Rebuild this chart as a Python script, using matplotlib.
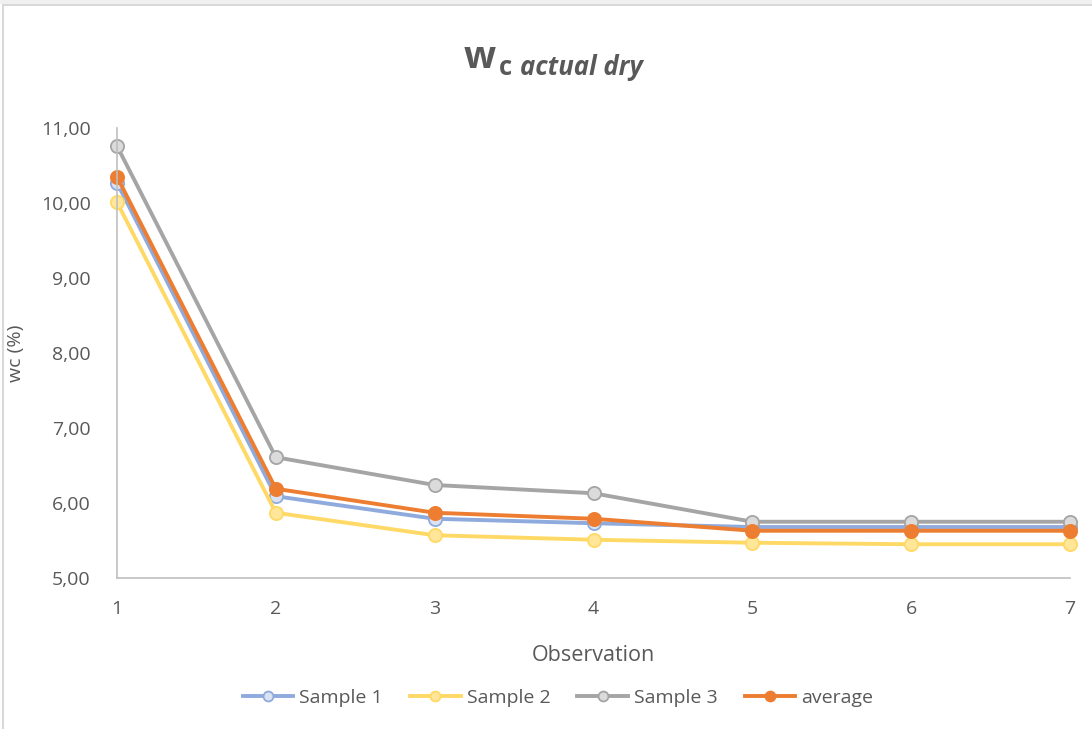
import matplotlib.pyplot as plt
from matplotlib.patches import Rectangle
from matplotlib.ticker import FuncFormatter

plt.rcParams['font.family'] = ['Open Sans', 'DejaVu Sans']

observation = [1, 2, 3, 4, 5, 6, 7]
sample_1 = [10.27, 6.09, 5.79, 5.73, 5.68, 5.68, 5.68]
sample_2 = [10.01, 5.87, 5.57, 5.51, 5.47, 5.45, 5.45]
sample_3 = [10.76, 6.61, 6.24, 6.13, 5.75, 5.75, 5.75]
average = [10.35, 6.19, 5.87, 5.79, 5.63, 5.63, 5.63]

text_col = "#595959"

fig = plt.figure(figsize=(10.92, 7.29), dpi=100)
fig.patch.set_facecolor("white")

# thin light frame round the chart area
fig.patches.append(Rectangle((3 / 1092, -0.01), 1.1, 1 - 5 / 729 + 0.01,
                             transform=fig.transFigure, fill=False,
                             edgecolor="#d9d9d9", linewidth=1.5))
fig.patches.append(Rectangle((0, 1 - 4 / 729), 1, 4 / 729,
                             transform=fig.transFigure, facecolor="#f0f0f0",
                             edgecolor="none"))

ax = fig.add_axes([117 / 1092, 151 / 729, 953 / 1092, 450 / 729])

styles = [
    ("Sample 1", sample_1, "#8faadc", "#dae3f3"),
    ("Sample 2", sample_2, "#ffd966", "#ffe699"),
    ("Sample 3", sample_3, "#a5a5a5", "#dbdbdb"),
    ("average", average, "#ed7d31", "#ed7d31"),
]
for name, vals, col, face in styles:
    ax.plot(observation, vals, color=col, lw=2.8, marker="o", ms=9.5,
            markerfacecolor=face, markeredgecolor=col, markeredgewidth=1.3,
            label=name, clip_on=False)

ax.set_xlim(1, 7)
ax.set_ylim(5, 11)
ax.set_xticks(observation)
ax.set_yticks([5, 6, 7, 8, 9, 10, 11])
ax.yaxis.set_major_formatter(FuncFormatter(lambda v, p: f"{v:.2f}".replace(".", ",")))
ax.tick_params(length=0, labelsize=14, labelcolor=text_col)
ax.tick_params(axis="y", pad=19)
ax.tick_params(axis="x", pad=16)

for s in ["top", "right"]:
    ax.spines[s].set_visible(False)
for s in ["left", "bottom"]:
    ax.spines[s].set_color("#bfbfbf")
    ax.spines[s].set_linewidth(1.2)

ax.set_xlabel("Observation", fontsize=15.5, color=text_col, labelpad=19)
ax.set_ylabel("wc (%)", fontsize=14, color=text_col)
ax.yaxis.set_label_coords(-92 / 953, 0.5)

# title: large w with a subscripted label
fig.text(0.454, 0.9067, "w", fontsize=27, fontweight="bold", color=text_col,
         ha="right", va="baseline")
fig.text(0.457, 0.897, "c", fontsize=18.5, fontweight="bold", color=text_col,
         ha="left", va="baseline")
fig.text(0.476, 0.897, "actual dry", fontsize=18.5, fontweight="bold",
         style="italic", color=text_col, ha="left", va="baseline")

ax.legend(loc="center", bbox_to_anchor=(0.511, 0.0425), bbox_transform=fig.transFigure,
          ncol=4, frameon=False, fontsize=14, labelcolor=text_col, markerscale=0.75,
          handlelength=2.6, columnspacing=1.4, handletextpad=0.3)

fig.savefig("out.png", dpi=100)
